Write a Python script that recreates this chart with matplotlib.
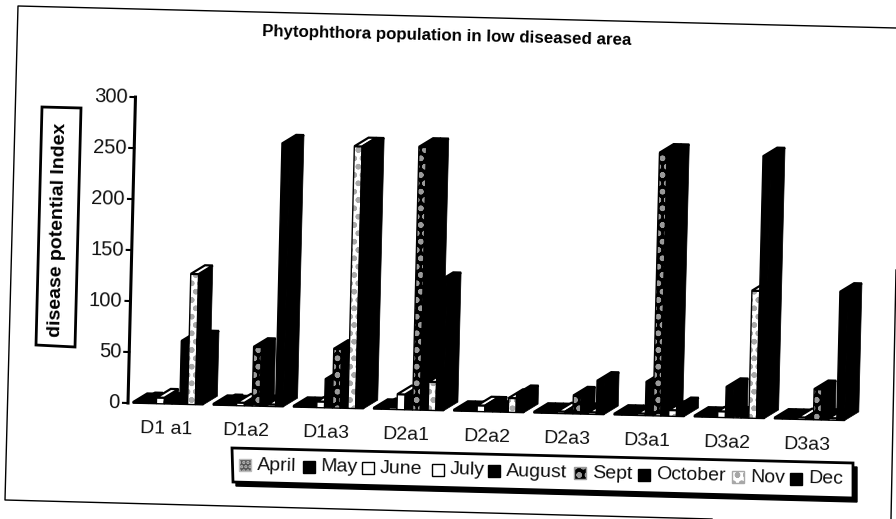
import numpy as np
import matplotlib
matplotlib.use('Agg')
from matplotlib import pyplot as plt
from matplotlib.patches import Polygon, Rectangle
from matplotlib.lines import Line2D
from matplotlib.transforms import Affine2D

plt.rcParams['font.family'] = ['Liberation Sans', 'DejaVu Sans']
plt.rcParams['hatch.linewidth'] = 1.6

groups = ['D1 a1', 'D1a2', 'D1a3', 'D2a1', 'D2a2', 'D2a3', 'D3a1', 'D3a2', 'D3a3']
months = ['April', 'May', 'June', 'July', 'August', 'Sept', 'October', 'Nov', 'Dec']
yticks = [0, 50, 100, 150, 200, 250, 300]

april = [1, 1, 1, 1, 1, 1, 1, 1, 1]
may = [2, 2, 1, 2, 1, 1, 1, 1, 1]
june = [1, 1, 1, 2, 1, 1, 1, 1, 1]
july = [6, 3, 6, 15, 6, 2, 2, 6, 2]
august = [2, 2, 28, 2, 6, 2, 33, 30, 2]
sept = [2, 58, 58, 258, 2, 18, 258, 2, 30]
october = [62, 2, 2, 258, 2, 2, 258, 2, 2]
nov = [128, 2, 257, 28, 14, 2, 6, 125, 2]
dec = [64, 258, 257, 127, 18, 33, 10, 257, 126]
series = [april, may, june, july, august, sept, october, nov, dec]

face = ['#555555', 'black', 'white', 'white', 'black', 'black', 'black', 'white', 'black']
hatch = ['....', None, None, None, None, 'oo', None, 'oo', None]
hatch_col = ['#bbbbbb', 'black', 'black', 'black', 'black', '#9a9a9a', 'black', '#a8a8a8', 'black']

W, H = 896, 519
ang = -1.4
gw = 80.2
fig = plt.figure(figsize=(W / 100, H / 100), dpi=100)
ax = fig.add_axes([128 / W, 116 / H, 9 * gw / W, 306 / H])
ax.set_xlim(0, 9)
ax.set_ylim(0, 300)
ax.axis('off')

rot = Affine2D().rotate_deg_around(128, 116, ang)
tr = ax.transData + rot

bw = 7.8 / gw
dx = 14 / gw
dy = 9 / 1.02
start = 5 / gw

for g in range(len(groups)):
    for i, vals in enumerate(series):
        x = g + start + i * bw
        v = vals[g]
        ax.bar(x, v, bw, align='edge', facecolor=face[i], edgecolor=hatch_col[i] if hatch[i] else 'black',
               hatch=hatch[i], lw=0, transform=tr, clip_on=False)
        ax.add_patch(Rectangle((x, 0), bw, v, fill=False, ec='black', lw=1, transform=tr, clip_on=False))
        side = [(x + bw, 0), (x + bw + dx, dy), (x + bw + dx, v + dy), (x + bw, v)]
        ax.add_patch(Polygon(side, fc='black', ec='black', lw=.5, transform=tr, clip_on=False))
        top = [(x, v), (x + bw, v), (x + bw + dx, v + dy), (x + dx, v + dy)]
        top_fc = 'white' if months[i] in ('July', 'Nov') else 'black'
        ax.add_patch(Polygon(top, fc=top_fc, ec='black', lw=1.6, transform=tr, clip_on=False))
    ax.text(g + .48, -25, groups[g], transform=tr, ha='center', va='center', rotation=ang,
            rotation_mode='anchor', fontsize=14, color='#111111')

# y axis
ax.plot([0, 0], [0, 300], color='black', lw=2.2, transform=tr, clip_on=False)
for t in yticks:
    ax.plot([-5 / gw, 0], [t, t], color='black', lw=1.5, transform=tr, clip_on=False)
    ax.text(-8 / gw, t, str(t), transform=tr, ha='right', va='center', rotation=ang,
            rotation_mode='anchor', fontsize=14.5, color='#111111')

pix = Affine2D().scale(1, -1).translate(0, H)  # top-left pixel coords

# outer frame
fig.add_artist(Line2D([896, 18, 5, 712], [28, 6, 500, 519], color='black', lw=1, transform=pix))
fig.add_artist(Line2D([896, 891], [270, 519], color='black', lw=1, transform=pix))

fig.text(447, 36, 'Phytophthora population in low diseased area', transform=pix, ha='center', va='center',
         fontsize=12.2, fontweight='bold', rotation=ang, rotation_mode='anchor')

# y label in box
fig.add_artist(Polygon([(42, 107), (81, 108), (75, 347), (36, 345)], closed=True, fc='white', ec='black', lw=2,
                       transform=pix))
fig.text(58, 230, 'disease potential Index', transform=pix, ha='center', va='center', fontsize=14,
         fontweight='bold', rotation=90 + ang, rotation_mode='anchor')

# legend, shadow first
fig.add_artist(Polygon([(236, 486), (857, 502), (857, 467), (850, 467), (850, 498), (236, 482)], closed=True,
                       fc='black', ec='black', lw=1, transform=pix))
fig.add_artist(Polygon([(232, 448), (853, 463), (853, 498), (233, 482)], closed=True, fc='white', ec='black', lw=2,
                       transform=pix))
xs = [239, 303, 362, 432, 488, 574, 638, 732, 790]
for x, name, fc, h, hc in zip(xs, months, face, hatch, hatch_col):
    y = 465 + (x - 232) * np.tan(np.radians(-ang))
    fig.add_artist(Rectangle((x, y - 6), 12, 12, fc=fc, ec='black' if not h else hc, hatch=h, lw=1, transform=pix))
    fig.text(x + 18, y, name, transform=pix, ha='left', va='center', fontsize=14, rotation=ang,
             rotation_mode='anchor', color='#111111')

fig.savefig('out.png', dpi=100)
